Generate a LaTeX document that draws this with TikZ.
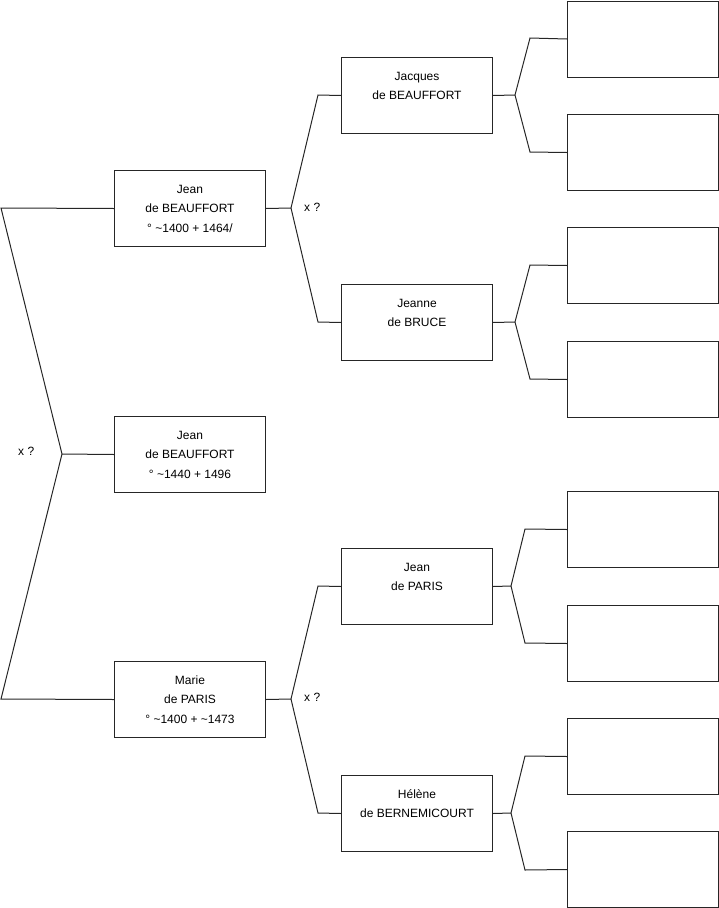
\documentclass[tikz,border=0pt]{standalone}
\usepackage{fontspec}
\setmainfont{Liberation Sans}
\usepackage{tikz}
\usetikzlibrary{positioning}

\begin{document}
\begin{tikzpicture}[
  x=1pt, y=-1pt,
  font=\fontsize{12}{19.5}\selectfont,
  person/.style={draw=black!85, line width=1pt, rectangle, minimum width=151pt, minimum height=76pt, align=center, inner sep=0pt, anchor=north west},
  link/.style={draw=black!85, line width=1pt},
  union/.style={anchor=west, inner sep=0pt}
]
  \useasboundingbox (0,0) rectangle (719,908);

  % generation 1
  \node[person] (jeanA) at (114,170) {Jean\\de BEAUFFORT\\° \textasciitilde1400 + 1464/};
  \node[person] (jeanB) at (114,416) {Jean\\de BEAUFFORT\\° \textasciitilde1440 + 1496};
  \node[person] (marie) at (114,661) {Marie\\de PARIS\\° \textasciitilde1400 + \textasciitilde1473};

  % generation 2
  \node[person] (jacques) at (341,57) {Jacques\\de BEAUFFORT\\~};
  \node[person] (jeanne) at (341,284) {Jeanne\\de BRUCE\\~};
  \node[person] (jeanP) at (341,548) {Jean\\de PARIS\\~};
  \node[person] (helene) at (341,775) {Hélène\\de BERNEMICOURT\\~};

  % generation 3
  \node[person] (a1) at (567,0.5) {};
  \node[person] (a2) at (567,114) {};
  \node[person] (a3) at (567,227) {};
  \node[person] (a4) at (567,341) {};
  \node[person] (a5) at (567,491) {};
  \node[person] (a6) at (567,605) {};
  \node[person] (a7) at (567,718) {};
  \node[person] (a8) at (567,831) {};

  % marriage marks
  \node[union] (xRoot) at (18,451) {x ?};
  \node[union] (xA) at (304,207) {x ?};
  \node[union] (xM) at (304,697) {x ?};

  % links
  \coordinate (vRoot) at (62,454);
  \draw[link] (jeanB.west) -- (vRoot);
  \draw[link] (jeanA.west) -- (1,208) -- (vRoot) -- (1,699) -- (marie.west);

  \coordinate (vA) at (291,208);
  \draw[link] (jeanA.east) -- (vA);
  \draw[link] (jacques.west) -- (318,95) -- (vA) -- (318,322) -- (jeanne.west);

  \coordinate (vM) at (291,699);
  \draw[link] (marie.east) -- (vM);
  \draw[link] (jeanP.west) -- (318,586) -- (vM) -- (318,813) -- (helene.west);

  \coordinate (vJa) at (515,95);
  \draw[link] (jacques.east) -- (vJa);
  \draw[link] (a1.west) -- (530,38) -- (vJa) -- (530,152) -- (a2.west);

  \coordinate (vJe) at (515,322);
  \draw[link] (jeanne.east) -- (vJe);
  \draw[link] (a3.west) -- (530,265) -- (vJe) -- (530,379) -- (a4.west);

  \coordinate (vJp) at (511,586);
  \draw[link] (jeanP.east) -- (vJp);
  \draw[link] (a5.west) -- (525,529) -- (vJp) -- (525,643) -- (a6.west);

  \coordinate (vH) at (511,813);
  \draw[link] (helene.east) -- (vH);
  \draw[link] (a7.west) -- (525,756) -- (vH) -- (525,870) -- (a8.west);
\end{tikzpicture}
\end{document}
